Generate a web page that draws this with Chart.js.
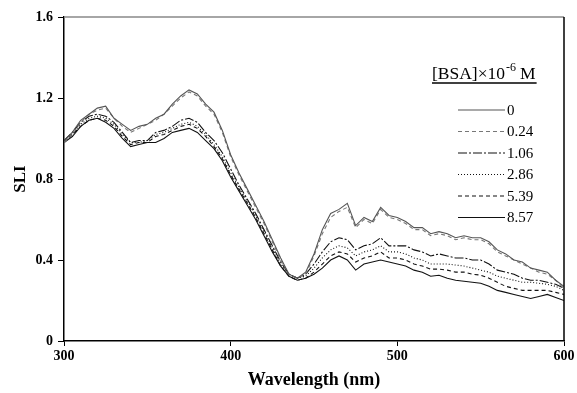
<!DOCTYPE html>
<html>
<head>
<meta charset="utf-8">
<script src="https://cdn.jsdelivr.net/npm/chart.js@4.4.1/dist/chart.umd.min.js"></script>
<style>
  html, body { margin: 0; padding: 0; background: #fff; }
  #wrap { width: 577px; height: 393px; }
</style>
</head>
<body>
<div id="wrap"><canvas id="chart" width="577" height="393"></canvas></div>
<script>
// comprimentos de onda (nm)
const wavelengths = [300,305,310,315,320,325,330,335,340,345,350,355,360,365,370,375,380,385,390,395,
  400,405,410,415,420,425,430,435,440,445,450,455,460,465,470,475,480,485,490,495,
  500,505,510,515,520,525,530,535,540,545,550,555,560,565,570,575,580,585,590,595,600];

// concentrações de BSA (x10^-6 M)
const bsaLabels = ['0', '0.24', '1.06', '2.86', '5.39', '8.57'];

const sli0 = [0.99,1.03,1.09,1.12,1.15,1.16,1.10,1.07,1.04,1.06,1.07,1.10,1.12,1.17,1.21,1.24,1.22,1.17,1.13,1.04,
  0.92,0.83,0.75,0.67,0.59,0.50,0.41,0.33,0.31,0.34,0.43,0.55,0.63,0.65,0.68,0.57,0.61,0.59,0.66,0.62,
  0.61,0.59,0.56,0.56,0.53,0.54,0.53,0.51,0.52,0.51,0.51,0.49,0.45,0.43,0.40,0.39,0.36,0.35,0.34,0.30,0.27];
const sli024 = [0.98,1.02,1.08,1.12,1.14,1.15,1.10,1.06,1.03,1.05,1.07,1.09,1.12,1.16,1.20,1.23,1.21,1.16,1.12,1.03,
  0.91,0.82,0.74,0.66,0.58,0.49,0.40,0.33,0.31,0.33,0.42,0.53,0.61,0.64,0.66,0.56,0.60,0.58,0.65,0.61,
  0.60,0.58,0.55,0.55,0.52,0.53,0.52,0.50,0.51,0.50,0.50,0.48,0.44,0.42,0.40,0.38,0.36,0.34,0.33,0.30,0.26];
const sli106 = [0.99,1.03,1.08,1.11,1.12,1.11,1.08,1.03,0.98,0.99,0.99,1.03,1.04,1.06,1.09,1.10,1.08,1.03,0.99,0.93,
  0.85,0.77,0.70,0.63,0.55,0.47,0.39,0.33,0.31,0.33,0.38,0.44,0.49,0.51,0.50,0.45,0.47,0.48,0.51,0.47,
  0.47,0.47,0.45,0.44,0.42,0.43,0.42,0.41,0.41,0.40,0.40,0.38,0.35,0.34,0.33,0.31,0.30,0.30,0.29,0.28,0.26];
const sli286 = [0.99,1.02,1.07,1.10,1.11,1.10,1.07,1.02,0.98,0.98,0.99,1.02,1.03,1.05,1.07,1.08,1.06,1.02,0.97,0.91,
  0.83,0.76,0.69,0.62,0.54,0.46,0.38,0.33,0.31,0.32,0.36,0.41,0.45,0.47,0.46,0.42,0.44,0.45,0.47,0.44,
  0.44,0.43,0.41,0.40,0.38,0.38,0.38,0.375,0.37,0.36,0.35,0.34,0.32,0.31,0.30,0.29,0.29,0.285,0.28,0.27,0.25];
const sli539 = [0.98,1.02,1.06,1.09,1.10,1.09,1.06,1.01,0.97,0.98,0.98,1.01,1.02,1.04,1.06,1.07,1.05,1.01,0.96,0.90,
  0.82,0.75,0.68,0.61,0.53,0.45,0.37,0.32,0.30,0.31,0.34,0.38,0.42,0.44,0.43,0.39,0.41,0.42,0.44,0.41,
  0.41,0.40,0.38,0.37,0.355,0.355,0.35,0.34,0.34,0.33,0.325,0.31,0.29,0.27,0.26,0.25,0.25,0.25,0.25,0.24,0.23];
const sli857 = [0.98,1.01,1.06,1.09,1.10,1.08,1.05,1.00,0.96,0.97,0.98,0.98,1.00,1.03,1.04,1.05,1.03,0.99,0.95,0.89,
  0.81,0.74,0.67,0.60,0.52,0.44,0.37,0.32,0.30,0.31,0.33,0.36,0.40,0.42,0.40,0.35,0.38,0.39,0.40,0.39,
  0.38,0.37,0.35,0.34,0.32,0.325,0.31,0.30,0.295,0.29,0.285,0.27,0.25,0.24,0.23,0.22,0.21,0.22,0.23,0.215,0.20];

const yTicks = [0, 0.4, 0.8, 1.2, 1.6];
const xTicks = [300, 400, 500, 600];

const serif = "'Liberation Serif', 'Times New Roman', serif";

function serie(label, values, color, dash) {
    return {
        label: label,
        data: wavelengths.map((w, i) => ({ x: w, y: values[i] })),
        borderColor: color,
        borderWidth: 1.1,
        borderDash: dash,
        pointRadius: 0,
        tension: 0,
        fill: false
    };
}

// moldura: topo cinza e lado direito preto
const moldura = {
    id: 'moldura',
    afterDatasetsDraw(chart) {
        const a = chart.chartArea;
        const ctx = chart.ctx;
        ctx.save();
        ctx.lineWidth = 1.5;
        ctx.strokeStyle = '#888';
        ctx.beginPath();
        ctx.moveTo(a.left, a.top);
        ctx.lineTo(a.right, a.top);
        ctx.stroke();
        ctx.strokeStyle = '#000';
        ctx.beginPath();
        ctx.moveTo(a.right, a.top);
        ctx.lineTo(a.right, a.bottom);
        ctx.stroke();
        ctx.restore();
    }
};

// legenda desenhada à mão (título com sobrescrito e sublinhado)
const legenda = {
    id: 'legenda',
    afterDraw(chart) {
        const ctx = chart.ctx;
        ctx.save();
        ctx.fillStyle = '#000';
        ctx.textBaseline = 'alphabetic';
        ctx.textAlign = 'left';

        let x = 432;
        const base = 79;
        ctx.font = '17.5px ' + serif;
        ctx.fillText('[BSA]×10', x, base);
        x += ctx.measureText('[BSA]×10').width;
        ctx.font = '12px ' + serif;
        ctx.fillText('-6', x + 1, base - 8);
        x += ctx.measureText('-6').width + 5;
        ctx.font = '17.5px ' + serif;
        ctx.fillText('M', x, base);
        x += ctx.measureText('M').width;

        ctx.lineWidth = 1.3;
        ctx.strokeStyle = '#000';
        ctx.beginPath();
        ctx.moveTo(432, base + 4);
        ctx.lineTo(x + 1, base + 4);
        ctx.stroke();

        ctx.font = '15px ' + serif;
        ctx.textBaseline = 'middle';
        chart.data.datasets.forEach((ds, i) => {
            const y = 110 + i * 21.5;
            ctx.strokeStyle = ds.borderColor;
            ctx.lineWidth = 1.1;
            ctx.setLineDash(ds.borderDash || []);
            ctx.beginPath();
            ctx.moveTo(458, y);
            ctx.lineTo(505, y);
            ctx.stroke();
            ctx.setLineDash([]);
            ctx.fillText(ds.label, 507, y + 1);
        });
        ctx.restore();
    }
};

new Chart(document.getElementById('chart'), {
    type: 'line',
    data: {
        datasets: [
            serie(bsaLabels[0], sli0, '#555', []),
            serie(bsaLabels[1], sli024, '#777', [4, 3]),
            serie(bsaLabels[2], sli106, '#111', [9, 2, 2, 2]),
            serie(bsaLabels[3], sli286, '#111', [1, 2]),
            serie(bsaLabels[4], sli539, '#111', [4, 3]),
            serie(bsaLabels[5], sli857, '#111', [])
        ]
    },
    options: {
        responsive: false,
        animation: false,
        layout: { padding: { top: 17, right: 13, left: 0, bottom: 0 } },
        plugins: {
            legend: { display: false },
            tooltip: { enabled: false }
        },
        scales: {
            x: {
                type: 'linear',
                min: 300,
                max: 600,
                afterFit(scale) { scale.height = 52; },
                afterBuildTicks(scale) { scale.ticks = xTicks.map(v => ({ value: v })); },
                grid: { drawOnChartArea: false, drawTicks: true, tickLength: 5, color: '#000' },
                border: { color: '#000', width: 1.5 },
                ticks: {
                    color: '#000',
                    padding: 2,
                    maxRotation: 0,
                    font: { family: serif, size: 14, weight: 'bold' }
                },
                title: {
                    display: true,
                    text: 'Wavelength (nm)',
                    color: '#000',
                    padding: { top: 0, bottom: 2 },
                    font: { family: serif, size: 18, weight: 'bold' }
                }
            },
            y: {
                type: 'linear',
                min: 0,
                max: 1.6,
                afterFit(scale) { scale.width = 64; },
                afterBuildTicks(scale) { scale.ticks = yTicks.map(v => ({ value: v })); },
                grid: { drawOnChartArea: false, drawTicks: true, tickLength: 6, color: '#000' },
                border: { color: '#000', width: 1.5 },
                ticks: {
                    color: '#000',
                    padding: 5,
                    callback: v => v === 0 ? '0' : v.toFixed(1),
                    font: { family: serif, size: 14, weight: 'bold' }
                },
                title: {
                    display: true,
                    text: 'SLI',
                    color: '#000',
                    padding: { top: 10, bottom: 0 },
                    font: { family: serif, size: 17, weight: 'bold' }
                }
            }
        }
    },
    plugins: [moldura, legenda]
});
</script>
</body>
</html>
